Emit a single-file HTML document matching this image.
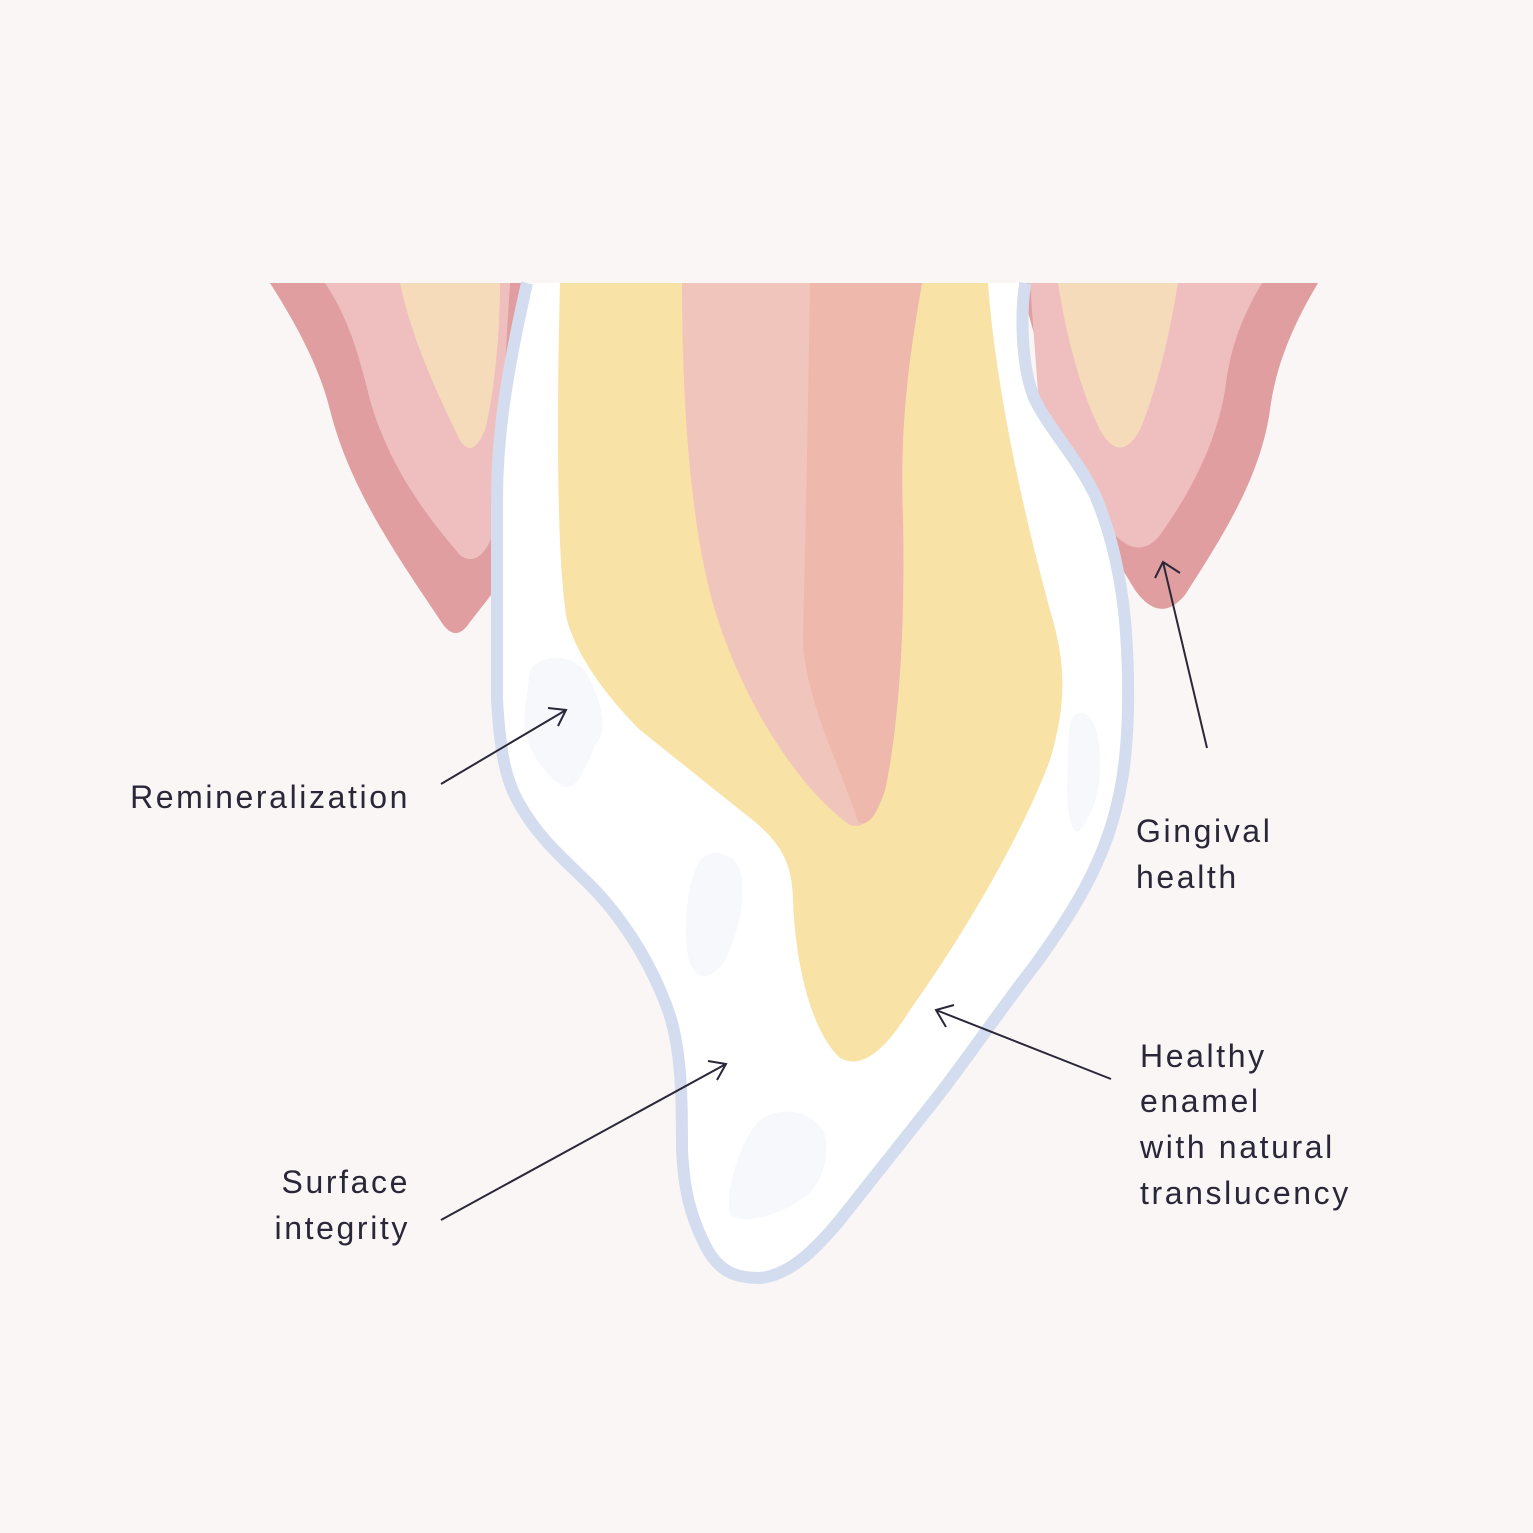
<!DOCTYPE html>
<html><head><meta charset="utf-8"><style>
html,body{margin:0;padding:0;background:#faf6f5;}
svg{display:block}
text{font-family:"Liberation Sans",sans-serif;font-size:32px;fill:#2a2838;letter-spacing:2.6px}
</style></head><body>
<svg width="1533" height="1533" viewBox="0 0 1533 1533" xmlns="http://www.w3.org/2000/svg">
<rect width="1533" height="1533" fill="#faf6f5"/>
<path d="M270,283 L525,283 L495,590 L470,622 Q455,645 440,620 C400,560 350,490 330,410 C320,370 300,330 270,283 Z" fill="#e09ea0"/>
<path d="M325,283 L510,283 L495,530 Q480,570 460,555 C430,520 390,470 370,400 C360,360 350,320 325,283 Z" fill="#efbfbf"/>
<path d="M400,283 L500,283 C500,330 495,390 485,430 Q472,460 460,440 C430,380 410,330 400,283 Z" fill="#f6dbbb"/>
<path d="M1020,283 L1318,283 C1290,330 1275,370 1270,410 C1260,480 1220,540 1185,595 Q1160,625 1135,590 L1080,500 Z" fill="#e09ea0"/>
<path d="M1030,283 L1262,283 C1240,320 1230,350 1225,390 C1215,450 1185,500 1160,535 Q1140,560 1115,535 L1040,420 Z" fill="#efbfbf"/>
<path d="M1058,283 L1178,283 C1170,330 1160,380 1140,430 Q1120,465 1100,430 C1080,390 1065,330 1058,283 Z" fill="#f6dbbb"/>
<path d="M527,283 C505,380 497,440 497,500 L497,700 C500,750 505,780 520,805 C540,840 565,860 590,885 C620,915 650,960 668,1010 C682,1050 682,1100 682,1150 C684,1190 690,1215 705,1245 C720,1275 740,1278 760,1278 C790,1275 815,1250 840,1220 L935,1100 C970,1055 1000,1010 1035,965 C1075,910 1105,860 1118,800 C1130,750 1130,680 1125,620 C1120,570 1110,530 1095,495 C1075,455 1050,430 1035,400 C1022,370 1020,320 1025,283" fill="#ffffff" stroke="#d3ddef" stroke-width="12"/>
<rect x="533" y="283" width="486" height="4" fill="#ffffff"/>
<g fill="#f7f8fb">
<path d="M530,670 C545,650 580,655 590,680 C600,700 610,730 595,745 C585,770 575,795 560,785 C540,770 520,740 525,710 Z"/>
<path d="M700,860 C715,845 740,855 742,880 C745,910 735,940 725,960 C710,985 690,980 687,950 C684,920 688,880 700,860 Z"/>
<path d="M760,1120 C780,1105 815,1110 825,1135 C830,1160 820,1190 800,1200 C780,1215 745,1225 730,1215 C725,1190 740,1140 760,1120 Z"/>
<path d="M1075,715 C1090,705 1100,730 1100,760 C1102,790 1090,820 1080,830 C1070,840 1065,800 1068,770 C1068,740 1068,720 1075,715 Z"/>
</g>
<path d="M560,283 L988,283 C995,380 1020,500 1050,610 C1065,660 1068,700 1050,760 C1020,840 960,940 910,1010 Q870,1075 840,1058 C810,1030 795,960 793,900 C792,860 780,840 740,810 L640,730 C600,690 575,650 567,620 C556,560 557,400 560,283 Z" fill="#f8e2a6"/>
<path d="M682,283 L922,283 C905,380 900,440 903,520 C905,620 900,720 885,790 Q870,832 850,825 C800,790 740,700 712,600 C690,520 682,400 682,283 Z" fill="#f0c5bb"/>
<path d="M810,283 L922,283 C905,380 900,440 903,520 C905,620 900,720 885,790 Q872,830 858,822 C842,770 805,700 803,640 C805,560 808,420 810,283 Z" fill="#eeb8ac"/>
<g stroke="#2a2838" stroke-width="2" fill="none">
<line x1="441" y1="784" x2="566" y2="710"/><polyline points="548,708 566,710 558,726"/>
<line x1="1207" y1="748" x2="1163" y2="562"/><polyline points="1155,578 1163,562 1180,573"/>
<line x1="1111" y1="1079" x2="936" y2="1010"/><polyline points="946,1027 936,1010 954,1005"/>
<line x1="441" y1="1220" x2="726" y2="1064"/><polyline points="708,1061 726,1064 717,1080"/>
</g>
<text x="410" y="808" text-anchor="end">Remineralization</text>
<text x="1136" y="842">Gingival</text>
<text x="1136" y="888">health</text>
<text x="1140" y="1067">Healthy</text>
<text x="1140" y="1112">enamel</text>
<text x="1140" y="1158">with natural</text>
<text x="1140" y="1204">translucency</text>
<text x="410" y="1193" text-anchor="end">Surface</text>
<text x="410" y="1239" text-anchor="end">integrity</text>
</svg>
</body></html>
